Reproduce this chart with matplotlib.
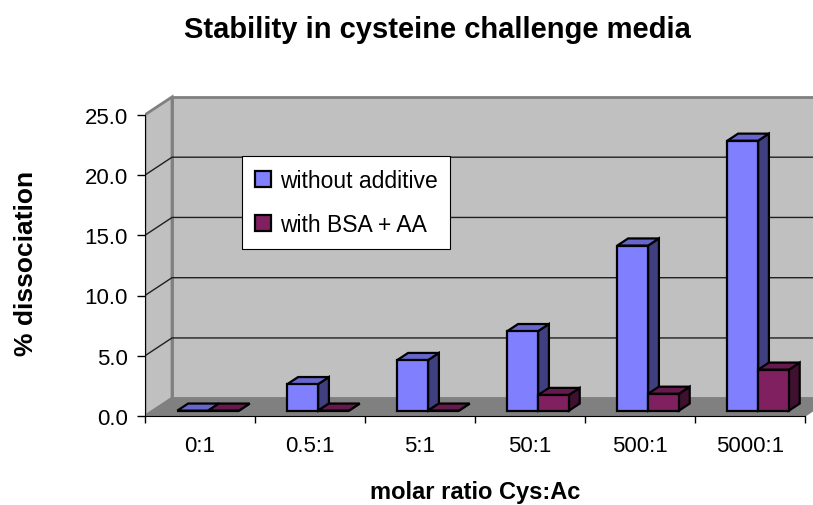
import matplotlib
matplotlib.use("Agg")
import matplotlib.pyplot as plt
from matplotlib.patches import Polygon, Patch

plt.rcParams["font.family"] = ["Liberation Sans", "DejaVu Sans"]

categories = ["0:1", "0.5:1", "5:1", "50:1", "500:1", "5000:1"]
without_additive = [0.0, 2.2, 4.2, 6.6, 13.7, 22.4]
with_bsa_aa = [0.0, 0.0, 0.0, 1.3, 1.4, 3.4]
series_names = ["without additive", "with BSA + AA"]
y_ticks = [0, 5, 10, 15, 20, 25]

# face colours: front, top, side
BLUE = ("#8080FF", "#6666CC", "#404080")
PLUM = ("#802060", "#66194D", "#401030")
WALL = "#C0C0C0"
FLOOR = "#808080"
EDGE = "#808080"

# pseudo-3d depth offset (category units, value units)
DX, DY = 0.2455, 1.477
BAR_W = 0.28
D0, D1 = 0.3, 0.7
YMAX = 25

W, H = 813, 506
fig = plt.figure(figsize=(W / 100, H / 100), dpi=100)
ax = fig.add_axes([145 / W, 1 - 417 / H, (W - 145) / W, (417 - 95) / H])
n = len(categories)
ax.set_xlim(0, n * (W - 145) / 660)
ax.set_ylim(0, (417 - 95) / 12.05)
ax.patch.set_visible(False)


def P(x, v, d):
    return (x + d * DX, v + d * DY)


def poly(pts, fc, ec="black", lw=1.6, z=2):
    ax.add_patch(Polygon(pts, closed=True, facecolor=fc, edgecolor=ec,
                         linewidth=lw, joinstyle="miter", zorder=z))


xr = ax.get_xlim()[1] + 1
# back wall, side wall, floor
poly([P(0, 0, 1), P(xr, 0, 1), P(xr, YMAX, 1), P(0, YMAX, 1)], WALL, EDGE, 2, 0)
poly([P(0, 0, 0), P(0, 0, 1), P(0, YMAX, 1), P(0, YMAX, 0)], WALL, EDGE, 2, 0)
poly([P(0, 0, 0), P(n, 0, 0), P(n, 0, 1), P(0, 0, 1)], FLOOR, FLOOR, 1, 0.5)

# gridlines on the side and back walls
for v in y_ticks[1:-1]:
    pts = [P(0, v, 0), P(0, v, 1), P(xr, v, 1)]
    ax.plot([p[0] for p in pts], [p[1] for p in pts], color="#202020",
            lw=1, zorder=1)


def bar3d(x0, h, cols):
    x1 = x0 + BAR_W
    front, top, side = cols
    poly([P(x1, 0, D0), P(x1, 0, D1), P(x1, h, D1), P(x1, h, D0)], side)
    poly([P(x0, h, D0), P(x1, h, D0), P(x1, h, D1), P(x0, h, D1)], top)
    poly([P(x0, 0, D0), P(x1, 0, D0), P(x1, h, D0), P(x0, h, D0)], front)


for i in range(n):
    c = i + 0.5
    bar3d(c - BAR_W, without_additive[i], BLUE)
    bar3d(c, with_bsa_aa[i], PLUM)

# axes, ticks and labels
for s in ("top", "right"):
    ax.spines[s].set_visible(False)
ax.spines["left"].set_bounds(0, YMAX)
ax.spines["bottom"].set_bounds(0, n)
ax.spines["left"].set_zorder(3)
ax.spines["bottom"].set_zorder(3)

ax.set_yticks(y_ticks)
ax.set_yticklabels([f"{t:.1f}" for t in y_ticks])
ax.tick_params(axis="y", direction="out", length=6, width=1, pad=6.5,
               labelsize=16)
ax.set_xticks(range(n + 1))
ax.set_xticklabels([])
ax.tick_params(axis="x", which="major", direction="out", length=5, width=1)
ax.set_xticks([i + 0.5 for i in range(n)], minor=True)
ax.set_xticklabels(categories, minor=True)
ax.tick_params(axis="x", which="minor", length=0, pad=14, labelsize=16)

leg = ax.legend(
    handles=[Patch(facecolor=BLUE[0], edgecolor="black", linewidth=1.6),
             Patch(facecolor=PLUM[0], edgecolor="black", linewidth=1.6)],
    labels=series_names, loc="upper left",
    bbox_to_anchor=(242 / W, 1 - 157 / H), bbox_transform=fig.transFigure,
    fontsize=16.5, frameon=True, fancybox=False, framealpha=1,
    edgecolor="black", handlelength=0.7, handleheight=0.7,
    handletextpad=0.4, labelspacing=0.95, borderpad=0.55, borderaxespad=0)
leg.get_frame().set_linewidth(0.8)
leg.set_zorder(5)

fig.text(437 / W, 1 - 30 / H, "Stability in cysteine challenge media",
         ha="center", va="center", fontsize=21, fontweight="bold")
fig.text(26 / W, 1 - 263 / H, "% dissociation", rotation=90, ha="center",
         va="center", fontsize=19, fontweight="bold")
fig.text(475 / W, 1 - 493 / H, "molar ratio Cys:Ac", ha="center",
         va="center", fontsize=17, fontweight="bold")

fig.savefig("out.png", dpi=100)
